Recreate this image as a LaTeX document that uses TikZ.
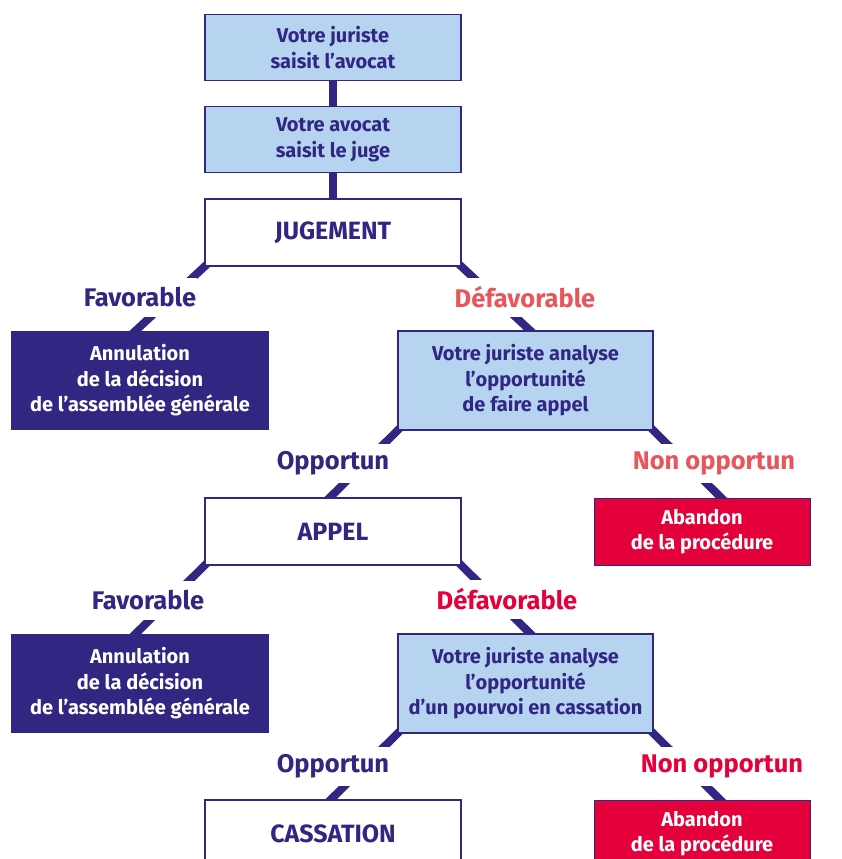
\documentclass[tikz,border=0pt]{standalone}
\usepackage{fontspec}
\setmainfont{Fira Sans}
\usetikzlibrary{positioning,backgrounds}
\definecolor{bleu}{RGB}{49,39,131}
\definecolor{bleuclair}{RGB}{182,212,240}
\definecolor{corail}{RGB}{232,85,90}
\definecolor{rouge}{RGB}{228,0,58}
\tikzset{
    %Define style for boxes
    boite/.style={
           rectangle,
           draw=bleu, line width=1.3pt,
           minimum width=256pt,
           minimum height=66pt,
           text=bleu,
           align=center,
           font=\fontsize{20}{25.5}\selectfont\bfseries},
    boiteclaire/.style={boite, fill=bleuclair},
    boiteblanche/.style={
           boite, fill=white,
           minimum height=67pt,
           font=\fontsize{25}{28}\selectfont\bfseries},
    annul/.style={
           boite, draw=none, fill=bleu, text=white,
           minimum width=258pt,
           minimum height=99pt},
    analyse/.style={
           boiteclaire,
           minimum width=255pt,
           minimum height=99pt},
    abandon/.style={
           boite, line width=0.8pt, fill=rouge, text=white,
           minimum width=216pt,
           minimum height=67pt},
    % Define style for labels
    etiq/.style={
           fill=white, inner sep=1pt,
           minimum height=39pt,
           text=bleu,
           font=\fontsize{25.5}{28}\selectfont\bfseries},
    % Define style for connectors
    lien/.style={
           draw=bleu, line width=8pt,
           shorten <=-8pt,
           shorten >=-8pt}
}

\begin{document}
\begin{tikzpicture}[x=1pt,y=-1pt]
\clip (0,0) rectangle (842,859);

 %nodes
\node[boiteclaire] (saisine) at (333,47.5) {Votre juriste\\saisit l’avocat};
\node[boiteclaire, below=25pt of saisine] (juge) {Votre avocat\\saisit le juge};
\node[boiteblanche, below=25pt of juge] (jugement) {JUGEMENT};

\node[annul] (annul1) at (140,380.5) {Annulation\\de la décision\\de l’assemblée générale};
\node[analyse] (analyse1) at (525.5,380.5) {Votre juriste analyse\\l’opportunité\\de faire appel};
\node[boiteblanche] (appel) at (333,531.5) {APPEL};
\node[abandon] (abandon1) at (702,531.5) {Abandon\\de la procédure};

\node[annul] (annul2) at (140,683.5) {Annulation\\de la décision\\de l’assemblée générale};
\node[analyse] (analyse2) at (525.5,683.5) {Votre juriste analyse\\l’opportunité\\d’un pourvoi en cassation};
\node[boiteblanche] (cassation) at (333,833.5) {CASSATION};
\node[abandon] (abandon2) at (702,833.5) {Abandon\\de la procédure};

 %labels
\node[etiq] (fav1) at (140,297) {Favorable};
\node[etiq, text=corail] (defav1) at (525,297) {Défavorable};
\node[etiq] (opp1) at (333,463) {Opportun};
\node[etiq, text=corail] (nonopp1) at (714,463) {Non opportun};
\node[etiq] (fav2) at (148,600) {Favorable};
\node[etiq, text=rouge] (defav2) at (507,599) {Défavorable};
\node[etiq] (opp2) at (333,766) {Opportun};
\node[etiq, text=rouge] (nonopp2) at (722,766) {Non opportun};

 %connectors
\begin{scope}[on background layer]
 \path[lien]
    (saisine) edge (juge)
    (juge) edge (jugement)
    (jugement.south west) edge ([xshift=-4pt]annul1.north)
    (jugement.south east) edge ([xshift=4.5pt]analyse1.north)
    (analyse1.south west) edge ([xshift=-3pt]appel.north)
    (analyse1.south east) edge ([xshift=19pt]abandon1.north)
    (appel.south west) edge ([xshift=-4pt]annul2.north)
    (appel.south east) edge ([xshift=4.5pt]analyse2.north)
    (analyse2.south west) edge ([xshift=-2pt]cassation.north)
    (analyse2.south east) edge ([xshift=18pt]abandon2.north);
\end{scope}

\end{tikzpicture}
\end{document}
